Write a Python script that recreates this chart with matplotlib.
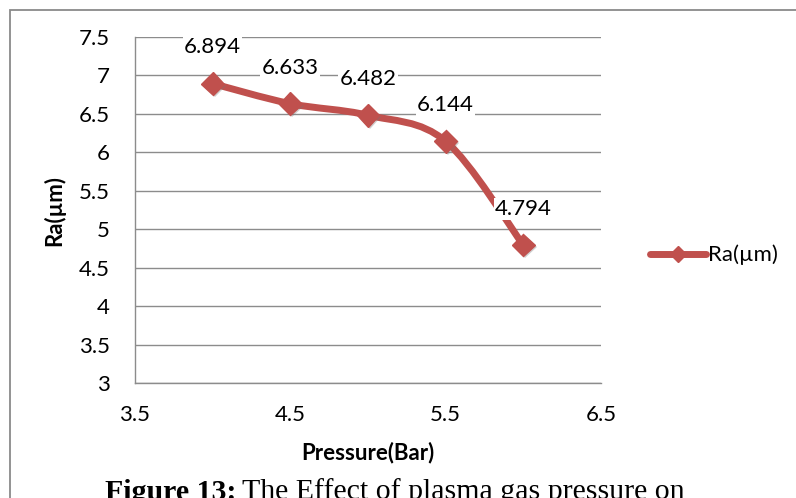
import matplotlib.pyplot as plt
import matplotlib.patheffects as pe
from matplotlib.path import Path
from matplotlib.patches import PathPatch, Rectangle

# pressure (bar) against surface roughness Ra (um)
pressure = [4.0, 4.5, 5.0, 5.5, 6.0]
ra = [6.894, 6.633, 6.482, 6.144, 4.794]
x_ticks = [3.5, 4.5, 5.5, 6.5]
y_ticks = [3, 3.5, 4, 4.5, 5, 5.5, 6, 6.5, 7, 7.5]
y_tick_labels = ["3", "3.5", "4", "4.5", "5", "5.5", "6", "6.5", "7", "7.5"]

red = "#C0504D"
grid_grey = "#8C8C8C"
fs = 16
plt.rcParams["font.family"] = ["Lato", "DejaVu Sans"]

fig = plt.figure(figsize=(7.96, 4.98), dpi=100)
W, H = 796, 498

# outer chart border
fig.patches.append(Rectangle((10 / W, -0.1), 1.0, 1 - 10 / H + 0.1, transform=fig.transFigure,
                             fill=False, edgecolor="#8A8A8A", linewidth=1.3))

ax = fig.add_axes([135 / W, 1 - 383 / H, (601 - 135) / W, (383 - 37) / H])
ax.set_xlim(3.5, 6.5)
ax.set_ylim(3, 7.5)
ax.set_xticks(x_ticks)
ax.set_xticklabels([str(v) for v in x_ticks])
ax.set_yticks(y_ticks)
ax.set_yticklabels(y_tick_labels)
ax.tick_params(length=0, labelsize=fs, colors="black")
ax.tick_params(axis="y", pad=18)
ax.tick_params(axis="x", pad=16)
ax.yaxis.grid(True, color=grid_grey, linewidth=1.0)
ax.set_axisbelow(True)
for side in ["top", "right"]:
    ax.spines[side].set_visible(False)
for side in ["left", "bottom"]:
    ax.spines[side].set_color(grid_grey)
    ax.spines[side].set_linewidth(1.0)

# smoothed line through the points (Catmull-Rom as cubic Beziers)
pts = list(zip(pressure, ra))
verts = [pts[0]]
codes = [Path.MOVETO]
for i in range(len(pts) - 1):
    p0 = pts[max(i - 1, 0)]
    p1 = pts[i]
    p2 = pts[i + 1]
    p3 = pts[min(i + 2, len(pts) - 1)]
    c1 = (p1[0] + (p2[0] - p0[0]) / 6, p1[1] + (p2[1] - p0[1]) / 6)
    c2 = (p2[0] - (p3[0] - p1[0]) / 6, p2[1] - (p3[1] - p1[1]) / 6)
    verts += [c1, c2, p2]
    codes += [Path.CURVE4] * 3
ax.add_patch(PathPatch(Path(verts, codes), fill=False, edgecolor=red,
                       linewidth=5, capstyle="round", joinstyle="round", zorder=3))

shadow = [pe.SimplePatchShadow(offset=(1.5, -1.5), shadow_rgbFace="#777777", alpha=0.35),
          pe.Normal()]
ax.plot(pressure, ra, linestyle="none", marker="D", markersize=11.5,
        color=red, markeredgecolor=red, zorder=4, path_effects=shadow)
ax.plot([], [], color=red, linewidth=5, marker="D", markersize=8,
        solid_capstyle="round", label="Ra(µm)")

for x, y in zip(pressure, ra):
    ax.annotate(f"{y:.3f}", (x, y), xytext=(0, 26), textcoords="offset points",
                ha="center", va="center", fontsize=fs, zorder=5,
                bbox=dict(facecolor="white", edgecolor="none", pad=1))

ax.set_xlabel("Pressure(Bar)", fontsize=fs, fontweight="bold", labelpad=12)
ax.set_ylabel("Ra(µm)", fontsize=fs, fontweight="bold", labelpad=10)

fig.legend(loc="center left", bbox_to_anchor=(650 / W, 1 - 255 / H), frameon=False,
           fontsize=fs, handlelength=2.5, handletextpad=0.1, borderpad=0,
           borderaxespad=0)

fig.text(105 / W, 1 - 492 / H, "Figure 13:", fontsize=21.5, fontweight="bold",
         family="Liberation Serif", ha="left", va="center")
fig.text(242 / W, 1 - 492 / H, "The Effect of plasma gas pressure on", fontsize=21.5,
         family="Liberation Serif", ha="left", va="center")

fig.savefig("out.png", dpi=100)
